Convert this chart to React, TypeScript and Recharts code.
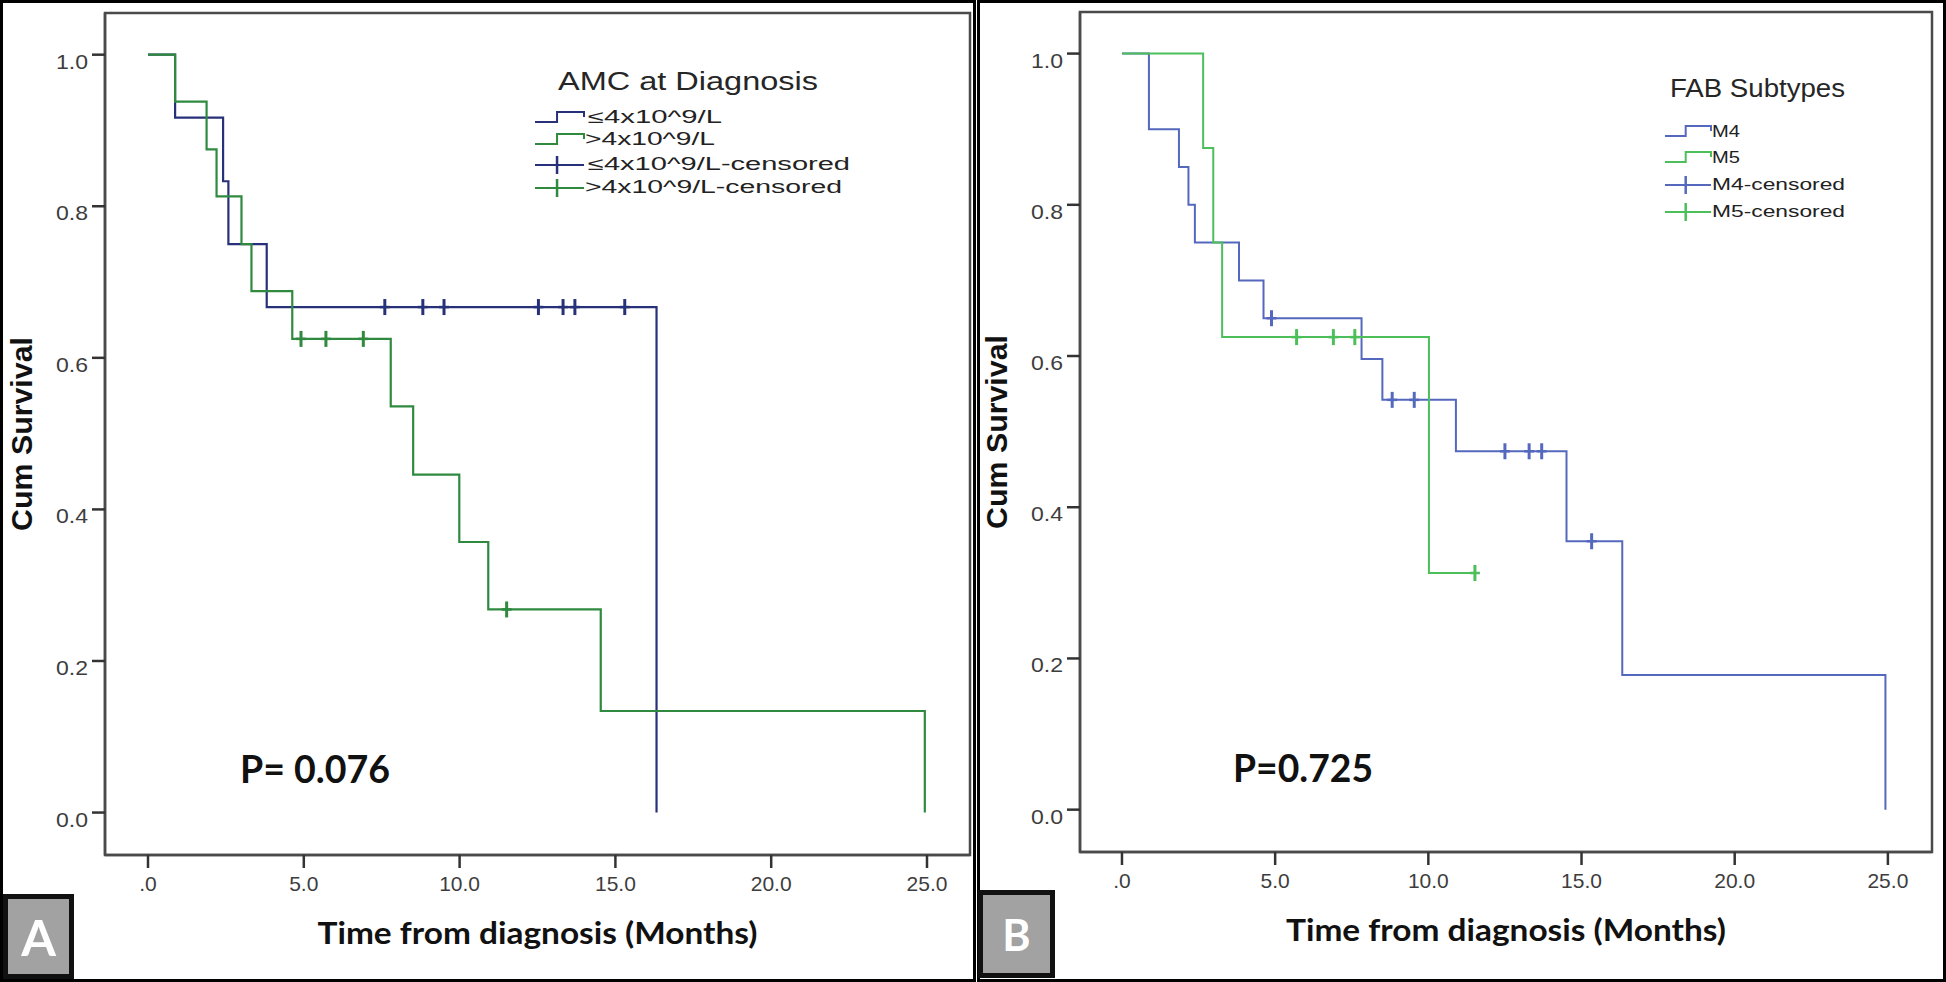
import React from 'react';
import { ComposedChart, Line, Scatter, XAxis, YAxis, Legend, Label, ReferenceArea } from 'recharts';

// axis ticks shared by both panels
const X_TICKS = [0, 5, 10, 15, 20, 25];
const Y_TICKS = [0, 0.2, 0.4, 0.6, 0.8, 1.0];

// Panel A - AMC at diagnosis, <=4x10^9/L
const aLowTimes = [0, 0.87, 2.41, 2.58, 3.81, 16.32];
const aLowSurv = [1.0, 0.917, 0.833, 0.75, 0.667, 0];
const aLowCensored = [7.6, 8.82, 9.5, 12.53, 13.32, 13.7, 15.3];

// Panel A - AMC at diagnosis, >4x10^9/L
const aHighTimes = [0, 0.87, 1.88, 2.2, 3.0, 3.32, 4.63, 7.79, 8.51, 9.99, 10.92, 14.53, 24.93];
const aHighSurv = [1.0, 0.938, 0.875, 0.813, 0.75, 0.688, 0.625, 0.536, 0.446, 0.357, 0.268, 0.134, 0];
const aHighCensored = [4.91, 5.71, 6.91, 11.51];

// Panel B - FAB subtype M4
const bM4Times = [0, 0.88, 1.86, 2.17, 2.38, 3.82, 4.62, 7.82, 8.5, 10.9, 14.51, 16.33, 24.92];
const bM4Surv = [1.0, 0.9, 0.85, 0.8, 0.75, 0.7, 0.65, 0.596, 0.542, 0.474, 0.355, 0.178, 0];
const bM4Censored = [4.88, 8.82, 9.54, 12.5, 13.29, 13.7, 15.33];

// Panel B - FAB subtype M5
const bM5Times = [0, 2.65, 2.98, 3.27, 10.02, 11.52];
const bM5Surv = [1.0, 0.875, 0.75, 0.625, 0.313, 0.313];
const bM5Censored = [5.7, 6.9, 7.6, 11.52];

const aLegendLabels = ['≤4x10^9/L', '>4x10^9/L', '≤4x10^9/L-censored', '>4x10^9/L-censored'];
const bLegendLabels = ['M4', 'M5', 'M4-censored', 'M5-censored'];

const ARIAL = '"Liberation Sans", Arial, sans-serif';
const CALIBRI = 'Lato, "Open Sans", sans-serif';

const A_NAVY = '#27317a';
const A_GREEN = '#2f8a3f';
const B_BLUE = '#5468bd';
const B_GREEN = '#4cbf5a';

type Pt = { t: number; s: number };

const toSteps = (times: number[], surv: number[]): Pt[] => times.map((t, i) => ({ t, s: surv[i] }));

const survAt = (times: number[], surv: number[], x: number) => {
    let s = surv[0];
    times.forEach((t, i) => {
        if (t <= x) s = surv[i];
    });
    return s;
};

const toCensored = (times: number[], surv: number[], cens: number[]): Pt[] =>
    cens.map(t => ({ t, s: survAt(times, surv, t) }));

const fmtX = (v: number) => (v === 0 ? '.0' : v.toFixed(1));

const XTick = (props: any) => {
    const { x, y, payload } = props;
    return (
        <text x={x} y={y} dy={15} textAnchor="middle" fontSize={21} fontFamily={ARIAL} fill="#3d3d3d">
            {fmtX(payload.value)}
        </text>
    );
};

const YTick = (props: any) => {
    const { x, y, payload } = props;
    return (
        <text x={x} y={y} dy={14} textAnchor="end" fontSize={21} fontFamily={ARIAL} fill="#3d3d3d" textLength={32} lengthAdjust="spacingAndGlyphs">
            {Number(payload.value).toFixed(1)}
        </text>
    );
};

const censorMark = (color: string) => (props: any) => {
    const { cx, cy } = props;
    if (cx == null || cy == null) return <g />;
    return (
        <g>
            <line x1={cx} y1={cy - 8} x2={cx} y2={cy + 8} stroke={color} strokeWidth={3} />
            <line x1={cx - 5} y1={cy} x2={cx + 5} y2={cy} stroke={color} strokeWidth={2.5} />
        </g>
    );
};

type LegendRow = { label: string; color: string; kind: 'step' | 'censor'; x: number; y: number; w: number };
type LegendSpec = {
    title: string;
    titleX: number;
    titleY: number;
    titleW: number;
    titleSize: number;
    iconX0: number;
    iconX1: number;
    textSize: number;
    rows: LegendRow[];
};

const KmLegend = ({ spec }: { spec: LegendSpec }) => {
    const stepAt = spec.iconX0 + (spec.iconX1 - spec.iconX0) * 0.45;
    return (
        <svg width={360} height={170} style={{ display: 'block', overflow: 'visible' }}>
            <text x={spec.titleX} y={spec.titleY} fontSize={spec.titleSize} fontFamily={ARIAL} fill="#262626"
                textLength={spec.titleW} lengthAdjust="spacingAndGlyphs">
                {spec.title}
            </text>
            {spec.rows.map((r, i) => (
                <g key={i}>
                    {r.kind === 'step' ? (
                        <path
                            d={`M${spec.iconX0},${r.y - 1} H${stepAt} V${r.y - 11} H${spec.iconX1} V${r.y - 6}`}
                            fill="none" stroke={r.color} strokeWidth={2}
                        />
                    ) : (
                        <g>
                            <line x1={spec.iconX0} y1={r.y - 5} x2={spec.iconX1} y2={r.y - 5} stroke={r.color} strokeWidth={2} />
                            <line x1={stepAt} y1={r.y - 14} x2={stepAt} y2={r.y + 4} stroke={r.color} strokeWidth={2.5} />
                        </g>
                    )}
                    <text x={r.x} y={r.y} fontSize={spec.textSize} fontFamily={ARIAL} fill="#222"
                        textLength={r.w} lengthAdjust="spacingAndGlyphs">
                        {r.label}
                    </text>
                </g>
            ))}
        </svg>
    );
};

type Series = { steps: Pt[]; censored: Pt[]; color: string; width: number };

type PanelProps = {
    left: number;
    width: number;
    margin: { top: number; right: number; bottom: number; left: number };
    xDomain: [number, number];
    series: Series[];
    legend: LegendSpec;
    legendPos: { left: number; top: number };
    pText: string;
    pX: number;
    pY: number;
    pW: number;
    badge: string;
    badgeBox: { left: number; top: number; width: number; height: number; size: number };
};

const Y_DOMAIN: [number, number] = [-0.056, 1.055];

const Panel = (p: PanelProps) => {
    const xLabel = (props: any) => {
        const vb = props.viewBox || {};
        return (
            <text x={vb.x + vb.width / 2} y={vb.y + 89} textAnchor="middle" fontSize={30} fontWeight={700}
                fontFamily={CALIBRI} fill="#111" textLength={440} lengthAdjust="spacingAndGlyphs">
                Time from diagnosis (Months)
            </text>
        );
    };
    const yLabel = (props: any) => {
        const vb = props.viewBox || {};
        const x = vb.x + vb.width - 84;
        const y = vb.y + vb.height / 2;
        return (
            <text x={x} y={y} transform={`rotate(-90, ${x}, ${y})`} textAnchor="middle" dominantBaseline="central"
                fontSize={30} fontWeight={700} fontFamily={ARIAL} fill="#111" textLength={194} lengthAdjust="spacingAndGlyphs">
                Cum Survival
            </text>
        );
    };

    return (
        <div style={{ position: 'absolute', left: p.left, top: 0, width: p.width, height: 982, boxSizing: 'border-box', border: '3px solid #000' }}>
            <div style={{ position: 'absolute', left: -3, top: -3 }}>
                <ComposedChart width={p.width} height={982} margin={p.margin}>
                    <ReferenceArea x1={p.xDomain[0]} x2={p.xDomain[1]} y1={Y_DOMAIN[0]} y2={Y_DOMAIN[1]}
                        fill="none" stroke="#4a4a4a" strokeWidth={2.5} ifOverflow="visible" />
                    <XAxis
                        dataKey="t"
                        type="number"
                        domain={p.xDomain}
                        ticks={X_TICKS}
                        allowDataOverflow
                        tickSize={13}
                        tickMargin={8}
                        height={60}
                        axisLine={{ stroke: '#4a4a4a', strokeWidth: 2.5 }}
                        tickLine={{ stroke: '#333', strokeWidth: 2.5 }}
                        tick={<XTick />}
                    >
                        <Label content={xLabel} />
                    </XAxis>
                    <YAxis
                        dataKey="s"
                        type="number"
                        domain={Y_DOMAIN}
                        ticks={Y_TICKS}
                        allowDataOverflow
                        width={100}
                        tickSize={13}
                        tickMargin={4}
                        axisLine={{ stroke: '#4a4a4a', strokeWidth: 2.5 }}
                        tickLine={{ stroke: '#333', strokeWidth: 2.5 }}
                        tick={<YTick />}
                    >
                        <Label content={yLabel} />
                    </YAxis>
                    {p.series.map((s, i) => (
                        <Line key={`l${i}`} data={s.steps} dataKey="s" type="stepAfter" stroke={s.color}
                            strokeWidth={s.width} dot={false} activeDot={false} legendType="none" isAnimationActive={false} />
                    ))}
                    {p.series.map((s, i) => (
                        <Scatter key={`c${i}`} data={s.censored} dataKey="s" shape={censorMark(s.color)}
                            legendType="none" isAnimationActive={false} />
                    ))}
                    <Legend
                        layout="vertical"
                        align="center"
                        verticalAlign="middle"
                        wrapperStyle={{ left: p.legendPos.left, top: p.legendPos.top, width: 360, height: 170 }}
                        content={() => <KmLegend spec={p.legend} />}
                    />
                </ComposedChart>
                <svg width={p.width} height={982} style={{ position: 'absolute', left: 0, top: 0, pointerEvents: 'none' }}>
                    <text x={p.pX} y={p.pY} fontSize={38} fontWeight={700} fontFamily={CALIBRI} fill="#111"
                        textLength={p.pW} lengthAdjust="spacingAndGlyphs">
                        {p.pText}
                    </text>
                </svg>
                <div style={{
                    position: 'absolute',
                    left: p.badgeBox.left,
                    top: p.badgeBox.top,
                    width: p.badgeBox.width,
                    height: p.badgeBox.height,
                    boxSizing: 'border-box',
                    border: '5px solid #111',
                    background: '#a2a2a2',
                    color: '#fff',
                    fontFamily: CALIBRI,
                    fontWeight: 700,
                    fontSize: p.badgeBox.size,
                    display: 'flex',
                    alignItems: 'center',
                    justifyContent: 'center',
                    lineHeight: 1,
                }}>
                    {p.badge}
                </div>
            </div>
        </div>
    );
};

const legendA: LegendSpec = {
    title: 'AMC at Diagnosis',
    titleX: 28,
    titleY: 30,
    titleW: 260,
    titleSize: 25,
    iconX0: 5,
    iconX1: 54,
    textSize: 18,
    rows: [
        { label: aLegendLabels[0], color: A_NAVY, kind: 'step', x: 58, y: 63, w: 134 },
        { label: aLegendLabels[1], color: A_GREEN, kind: 'step', x: 55, y: 85, w: 130 },
        { label: aLegendLabels[2], color: A_NAVY, kind: 'censor', x: 58, y: 110, w: 262 },
        { label: aLegendLabels[3], color: A_GREEN, kind: 'censor', x: 55, y: 133, w: 257 },
    ],
};

const legendB: LegendSpec = {
    title: 'FAB Subtypes',
    titleX: 13,
    titleY: 32,
    titleW: 175,
    titleSize: 26,
    iconX0: 8,
    iconX1: 54,
    textSize: 17,
    rows: [
        { label: bLegendLabels[0], color: B_BLUE, kind: 'step', x: 55, y: 72, w: 28 },
        { label: bLegendLabels[1], color: B_GREEN, kind: 'step', x: 55, y: 98, w: 28 },
        { label: bLegendLabels[2], color: B_BLUE, kind: 'censor', x: 55, y: 125, w: 133 },
        { label: bLegendLabels[3], color: B_GREEN, kind: 'censor', x: 55, y: 152, w: 133 },
    ],
};

export default function App() {
    const seriesA: Series[] = [
        { steps: toSteps(aLowTimes, aLowSurv), censored: toCensored(aLowTimes, aLowSurv, aLowCensored), color: A_NAVY, width: 2.2 },
        { steps: toSteps(aHighTimes, aHighSurv), censored: toCensored(aHighTimes, aHighSurv, aHighCensored), color: A_GREEN, width: 2.2 },
    ];
    const seriesB: Series[] = [
        { steps: toSteps(bM4Times, bM4Surv), censored: toCensored(bM4Times, bM4Surv, bM4Censored), color: B_BLUE, width: 2 },
        { steps: toSteps(bM5Times, bM5Surv), censored: toCensored(bM5Times, bM5Surv, bM5Censored), color: B_GREEN, width: 2 },
    ];

    return (
        <div style={{ position: 'absolute', left: 0, top: 0, width: 1946, height: 982, background: '#fff', overflow: 'hidden' }}>
            <Panel
                left={0}
                width={976}
                margin={{ top: 13, right: 6, bottom: 67, left: 5 }}
                xDomain={[-1.38, 26.38]}
                series={seriesA}
                legend={legendA}
                legendPos={{ left: 530, top: 60 }}
                pText="P= 0.076"
                pX={240}
                pY={783}
                pW={150}
                badge="A"
                badgeBox={{ left: 3, top: 894, width: 71, height: 85, size: 50 }}
            />
            <Panel
                left={977}
                width={969}
                margin={{ top: 12, right: 14, bottom: 70, left: 3 }}
                xDomain={[-1.37, 26.44]}
                series={seriesB}
                legend={legendB}
                legendPos={{ left: 680, top: 65 }}
                pText="P=0.725"
                pX={256}
                pY={782}
                pW={140}
                badge="B"
                badgeBox={{ left: 1, top: 890, width: 77, height: 88, size: 43 }}
            />
        </div>
    );
}
